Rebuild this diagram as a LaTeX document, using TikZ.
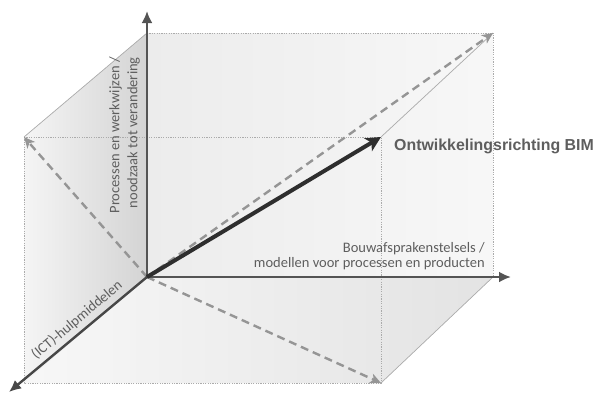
\documentclass[tikz,border=0pt]{standalone}
\usepackage{fontspec}
\setmainfont{Carlito}
\newfontfamily\labelbold{Liberation Sans}
\usetikzlibrary{arrows.meta}
\definecolor{axisgray}{HTML}{545454}
\definecolor{dashgray}{HTML}{959595}
\definecolor{edgegray}{HTML}{ABABAB}
\definecolor{textgray}{HTML}{5E5E5E}
\definecolor{bimdark}{HTML}{2E2E2E}
\tikzset{
  edgedot/.style={draw=edgegray, line width=0.8pt, dash pattern=on 1.2pt off 1.2pt},
  edgeline/.style={draw=edgegray, line width=0.7pt},
  axisline/.style={draw=axisgray, line width=2.8pt, -{Latex[length=12pt,width=11pt]}},
  dasharrow/.style={draw=dashgray, line width=2.4pt, dash pattern=on 8pt off 5pt,
    -{Stealth[length=11pt,width=10pt,inset=3pt]}},
  bimarrow/.style={draw=bimdark, line width=4pt, -{Stealth[length=15pt,width=15pt,inset=4pt]}},
  axislabel/.style={text=textgray, font=\fontsize{14.5}{15}\selectfont, inner sep=0pt},
}
\begin{document}
\begin{tikzpicture}[x=1pt,y=-1pt]
\useasboundingbox (0,0) rectangle (595,392);

% cube corners
\coordinate (O)   at (147,277);
\coordinate (BTL) at (147,33);
\coordinate (BTR) at (493,33);
\coordinate (BBR) at (493,277);
\coordinate (FTL) at (24,137);
\coordinate (FTR) at (381,137);
\coordinate (FBR) at (381,383);
\coordinate (FBL) at (24,383);
% axis tips
\coordinate (vtip) at (147,11);
\coordinate (htip) at (511,277);
\coordinate (itip) at (9,392);

% faces
\shade[left color=black!9, right color=black!3]
  (FTL) -- (BTL) -- (BTR) -- (BBR) -- (FBR) -- (FBL) -- cycle;
\shade[left color=black!4, right color=black!17] (FTL) -- (BTL) -- (O) -- (FBL) -- cycle;
\shade[left color=black!3, right color=black!11] (O) -- (BBR) -- (FBR) -- (FBL) -- cycle;

% dotted cube edges
\draw[edgedot] (FTL) -- (FTR) -- (FBR) -- (FBL) -- cycle;
\draw[edgedot] (BTL) -- (BTR) -- (BBR);
% solid receding edges
\draw[edgeline] (FTL) -- (BTL);
\draw[edgeline] (FTR) -- (BTR);
\draw[edgeline] (FBR) -- (BBR);

% dashed diagonals
\draw[dasharrow] (O) -- (FTL);
\draw[dasharrow] (O) -- (BTR);
\draw[dasharrow] (O) -- (FBR);

% axes
\draw[axisline] (O) -- (vtip);
\draw[axisline] (O) -- (htip);
\draw[axisline, draw=black!72, line width=2.4pt] (O) -- (itip);

% development direction
\draw[bimarrow] (O) -- (FTR);

% labels
\node[anchor=west, text=textgray, inner sep=0pt,
  font=\labelbold\bfseries\fontsize{15.9}{18}\selectfont] (bim) at (394,146)
  {Ontwikkelingsrichting BIM};
\node[axislabel, anchor=south east, align=right] (bouw) at (485,270)
  {Bouwafsprakenstelsels /\\modellen voor processen en producten};
\node[axislabel, anchor=south east, align=right, rotate=90,
  font=\fontsize{14.5}{18}\selectfont] (proc) at (140,57)
  {Processen en werkwijzen /\\noodzaak tot verandering};
\node[axislabel, rotate=40] (ict) at (77,320) {(ICT)-hulpmiddelen};
\end{tikzpicture}
\end{document}
